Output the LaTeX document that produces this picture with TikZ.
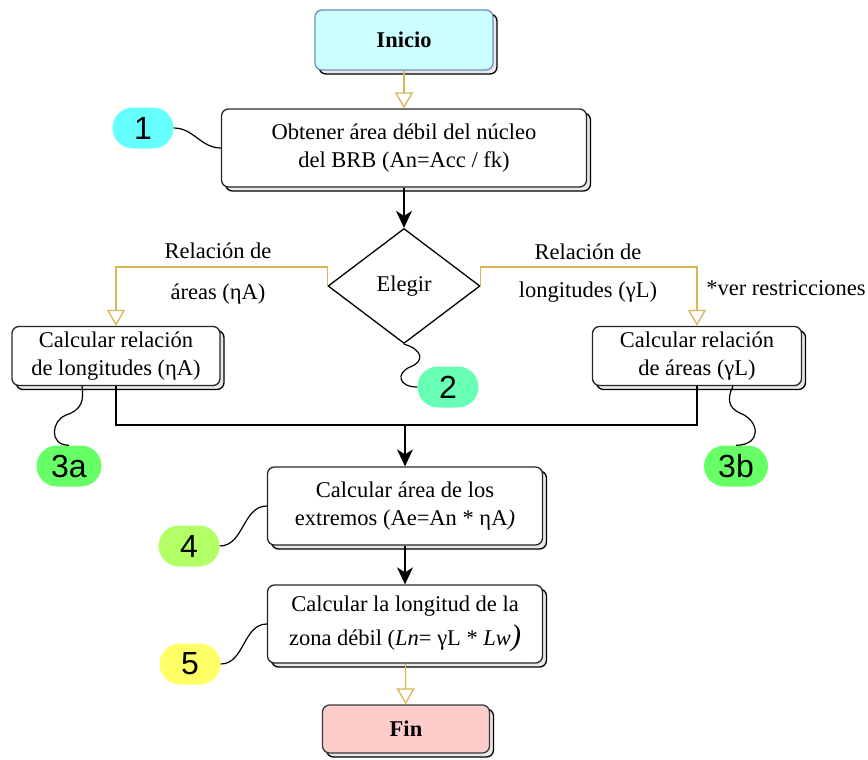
\documentclass[tikz,border=0pt]{standalone}
\usepackage{fontspec}
\setmainfont{Liberation Serif}
\newfontfamily\numfont{Liberation Sans}
\usetikzlibrary{shapes.geometric,shapes.misc,arrows.meta,shadows}
\definecolor{goldline}{HTML}{D6B656}
\definecolor{startfill}{HTML}{CCFFFF}
\definecolor{startdraw}{HTML}{6C8EBF}
\definecolor{endfill}{HTML}{FFCCCC}
\definecolor{enddraw}{HTML}{36393D}
\definecolor{tagcyan}{HTML}{66FFFF}
\definecolor{tagmint}{HTML}{66FFB3}
\definecolor{taggreen}{HTML}{66FF66}
\definecolor{taglime}{HTML}{B3FF66}
\definecolor{tagyellow}{HTML}{FFFF66}
\newcommand{\boxfont}{\fontsize{22.5}{28}\selectfont}

\begin{document}
\begin{tikzpicture}[x=1pt,y=-1pt,
  procbox/.style={draw=black!85, fill=white, line width=1.3pt, rounded corners=7pt,
    align=center, font=\boxfont, inner sep=0pt,
    copy shadow={shadow xshift=4pt, shadow yshift=-4pt, fill=gray!18, draw=black, line width=1.3pt, opacity=1}},
  tag/.style={rounded rectangle, minimum width=61pt, minimum height=41pt, inner sep=0pt,
    font=\numfont\fontsize{32}{32}\selectfont},
  gold/.style={draw=goldline, line width=1.3pt, -{Triangle[open, width=18pt, length=16pt]}},
  flow/.style={line width=1.3pt, -{Stealth[width=16pt, length=17pt, inset=5pt]}},
  wire/.style={line width=1.2pt},
  lbl/.style={font=\boxfont}]
  \useasboundingbox (0,0) rectangle (868,760);

  % Start and first step
  \node[procbox, fill=startfill, draw=startdraw, minimum width=178pt, minimum height=60pt, font=\boxfont\bfseries] (start) at (404,40) {Inicio};
  \node[procbox, minimum width=365pt, minimum height=78pt] (getarea) at (404,148) {Obtener área débil del núcleo\\del BRB (An=Acc / fk)};

  % Decision
  \node[draw, diamond, line width=1.3pt, minimum width=152pt, minimum height=115pt, inner sep=0pt, font=\boxfont] (choose) at (404,286) {Elegir};
  \node[lbl] (lrel) at (218,251) {Relación de};
  \node[lbl] (lareas) at (218,294) {áreas (ηA)};
  \node[lbl] (rrel) at (588,252) {Relación de};
  \node[lbl] (rlong) at (588,292) {longitudes (γL)};
  \node[lbl] (note) at (786,288) {*ver restricciones};

  % Two branches
  \node[procbox, minimum width=208pt, minimum height=59pt] (ratiolen) at (116,356) {Calcular relación\\de longitudes (ηA)};
  \node[procbox, minimum width=209pt, minimum height=59pt] (ratioarea) at (697,356) {Calcular relación\\de áreas (γL)};
  \coordinate (merge) at (405,425);

  % Last steps
  \node[procbox, minimum width=275pt, minimum height=78pt] (endarea) at (405,506) {Calcular área de los\\extremos (Ae=An * ηA\textit{)}};
  \node[procbox, minimum width=275pt, minimum height=78pt] (weaklen) at (405,624) {Calcular la longitud de la\\[6pt]zona débil (\textit{Ln}= γL * \textit{Lw}{\fontsize{30}{30}\selectfont\itshape)}};
  \node[procbox, fill=endfill, draw=enddraw, minimum width=167pt, minimum height=48pt, font=\boxfont\bfseries] (stop) at (406,729) {Fin};

  % Step tags
  \node[tag, fill=tagcyan] (t1) at (143,128) {1};
  \node[tag, fill=tagmint] (t2) at (448,387) {2};
  \node[tag, fill=taggreen, minimum width=65pt] (t3a) at (69,466) {3a};
  \node[tag, fill=taggreen, minimum width=64pt] (t3b) at (736,466) {3b};
  \node[tag, fill=taglime] (t4) at (189,546) {4};
  \node[tag, fill=tagyellow] (t5) at (190,664) {5};

  % Flow lines
  \draw[gold] (start) -- (getarea);
  \draw[flow] (getarea) -- (choose);
  \draw[gold] (choose.west) -- ++(0,-19) -| (ratiolen.north);
  \draw[gold] (choose.east) -- ++(0,-19) -| (ratioarea.north);
  \draw[wire] (ratiolen.south) |- (merge) -| (ratioarea.south);
  \draw[flow] (merge) -- (endarea);
  \draw[flow] (endarea) -- (weaklen);
  \draw[gold] (weaklen) -- (stop);

  % Tag links
  \draw[wire] (t1.east) to[out=0, in=180] (getarea.west);
  \draw[wire] (choose.south) .. controls (424,350) and (424,362) .. (410,367) .. controls (396,373) and (398,387) .. (t2.west);
  \draw[wire] ([xshift=-34pt]ratiolen.south) .. controls (84,400) and (82,410) .. (66,415) .. controls (52,420) and (48,445) .. (t3a.north);
  \draw[wire] ([xshift=36pt]ratioarea.south) .. controls (727,398) and (728,408) .. (740,413) .. controls (760,421) and (762,445) .. (t3b.north);
  \draw[wire] (t4.east) to[out=0, in=180] (endarea.west);
  \draw[wire] (t5.east) to[out=0, in=180] (weaklen.west);
\end{tikzpicture}
\end{document}
